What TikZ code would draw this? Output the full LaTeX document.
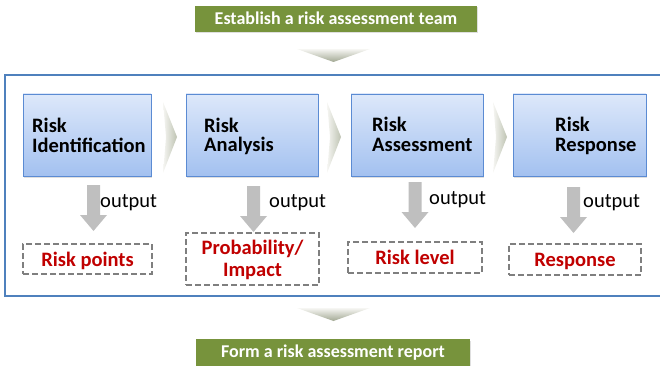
\documentclass[tikz,border=0pt]{standalone}
\usepackage{fontspec}
\setmainfont{Carlito}
\usetikzlibrary{shadows}
\definecolor{olivegreen}{HTML}{77933C}
\definecolor{frameblue}{HTML}{4F81BD}
\definecolor{boxtop}{HTML}{DDE8FA}
\definecolor{boxbot}{HTML}{A3C1F0}
\definecolor{boxedge}{HTML}{5B8BD3}
\definecolor{riskred}{HTML}{C00000}
\definecolor{dashgray}{HTML}{7F7F7F}
\definecolor{arrgray}{HTML}{BFBFBF}
\definecolor{chevlight}{HTML}{F6F6F3}
\definecolor{chevdark}{HTML}{BEC3B2}
\definecolor{chevdown}{HTML}{A2A893}
\begin{document}
\begin{tikzpicture}[x=1pt,y=-1pt,
  greenbox/.style={fill=olivegreen, text=white, font=\fontsize{18}{20}\selectfont\bfseries,
    inner sep=0pt, drop shadow={opacity=0.25, shadow xshift=1pt, shadow yshift=-1.5pt}},
  stepbox/.style={draw=boxedge, line width=0.8pt, top color=boxtop, bottom color=boxbot,
    minimum height=82pt, inner sep=0pt,
    drop shadow={opacity=0.25, shadow xshift=1.2pt, shadow yshift=-1.5pt}},
  steptext/.style={font=\fontsize{20.5}{20}\selectfont\bfseries, align=left, inner sep=0pt, anchor=base west},
  outtext/.style={font=\fontsize{20.5}{22}\selectfont, inner sep=0pt, anchor=base west},
  resultbox/.style={draw=dashgray, line width=2pt, dash pattern=on 6pt off 3pt,
    text=riskred, font=\fontsize{20.5}{22}\selectfont\bfseries, align=center, inner sep=0pt,
    text height=14pt, text depth=0pt},
  resulttext/.style={text=riskred, font=\fontsize{20.5}{21.5}\selectfont\bfseries, align=center,
    inner sep=0pt, anchor=base},
  downarr/.pic={\fill[arrgray] (-6.5,0) -- (6.5,0) -- (6.5,30) -- (13.5,30) -- (0,46)
    -- (-13.5,30) -- (-6.5,30) -- cycle;},
  rightchev/.pic={\shade[left color=chevlight, right color=chevdark]
    (-7,-35) -- (7,0) -- (-7,36) -- (-4,0) -- cycle;},
  downchev/.pic={\shade[top color=chevlight, bottom color=chevdown]
    (-36.5,0) -- (36.5,0) -- (0,13) -- cycle;}
]
\useasboundingbox (0,0) rectangle (660,366);

% top and bottom banners
\node[greenbox, minimum width=282pt, minimum height=26pt, text height=12pt, text depth=0pt]
  (team) at (336,19) {Establish a risk assessment team};
\pic at (333.5,49) {downchev};

\node[greenbox, minimum width=274pt, minimum height=32pt, text height=12pt, text depth=7pt]
  (report) at (333,355) {Form a risk assessment report};
\pic at (333.5,308) {downchev};

% frame around the process
\draw[frameblue, line width=1.3pt] (664,75) -- (5,75) -- (5,296) -- (664,296);

% process steps
\node[stepbox, minimum width=128pt] (s1) at (87,135) {};
\node[stepbox, minimum width=132pt] (s2) at (252,135) {};
\node[stepbox, minimum width=132pt] (s3) at (417,135) {};
\node[stepbox, minimum width=133pt] (s4) at (579.5,135) {};

% step names (anchored at the baseline of the second line)
\node[steptext] (t1) at (32,153) {Risk\\Identification};
\node[steptext] (t2) at (204,152) {Risk\\Analysis};
\node[steptext] (t3) at (372,151) {Risk\\Assessment};
\node[steptext] (t4) at (555,151) {Risk\\Response};

% chevrons between the steps
\pic at (170,137) {rightchev};
\pic at (334,137) {rightchev};
\pic at (500,137) {rightchev};

% output arrows
\pic at (93.5,185) {downarr};
\pic at (253.5,186) {downarr};
\pic at (415,182) {downarr};
\pic at (573.5,187) {downarr};

\node[outtext] (o1) at (100,207) {output};
\node[outtext] (o2) at (269,207) {output};
\node[outtext] (o3) at (429,204) {output};
\node[outtext] (o4) at (583,207) {output};

% results
\node[resultbox, minimum width=129pt, minimum height=30pt] (r1) at (87.5,259) {Risk points};
\node[resultbox, minimum width=133pt, minimum height=52pt] (r2) at (252.5,259) {};
\node[resulttext] (r2t) at (252.5,276) {Probability/\\Impact};
\node[resultbox, minimum width=134pt, minimum height=31pt] (r3) at (415,257.5) {Risk level};
\node[resultbox, minimum width=132pt, minimum height=31pt] (r4) at (575,259.5) {Response};
\end{tikzpicture}
\end{document}
